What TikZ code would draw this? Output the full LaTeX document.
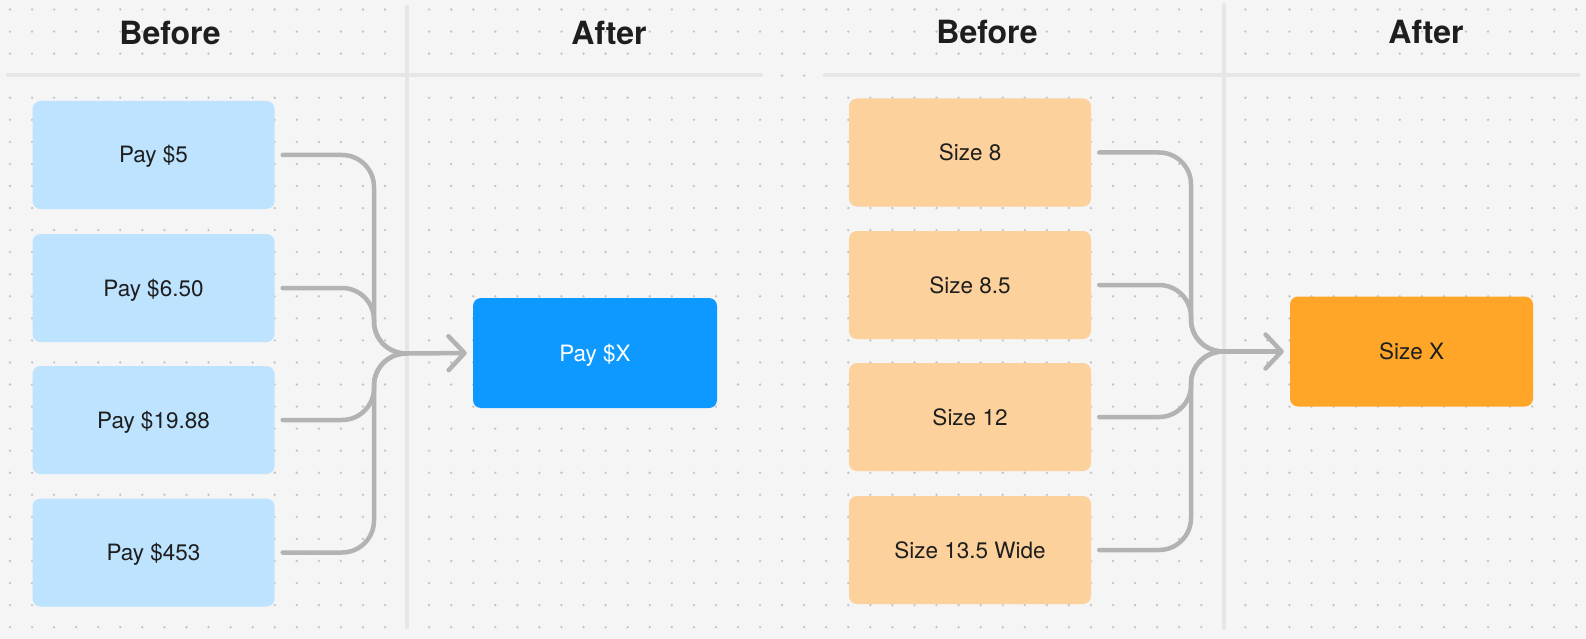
\documentclass[tikz,border=0pt]{standalone}
\usepackage{fontspec}
\setmainfont{TeX Gyre Heros}
\usetikzlibrary{arrows.meta}
\definecolor{bg}{HTML}{F5F5F5}
\definecolor{dotc}{HTML}{C4C4C4}
\definecolor{rule}{HTML}{E6E6E6}
\definecolor{conn}{HTML}{B3B3B3}
\definecolor{lblue}{HTML}{BDE3FF}
\definecolor{dblue}{HTML}{0D99FF}
\definecolor{lorange}{HTML}{FCD19C}
\definecolor{dorange}{HTML}{FFA629}
\definecolor{ink}{HTML}{1E1E1E}
\tikzset{
  card/.style={rounded corners=8pt, minimum width=242pt, minimum height=108pt, inner sep=0pt,
    text=ink, font=\fontsize{22.5}{27}\selectfont, text height=16pt, text depth=0pt},
  bluecard/.style={card, fill=lblue},
  orangecard/.style={card, fill=lorange},
  headtxt/.style={text=ink, font=\fontsize{32}{38}\selectfont\bfseries, inner sep=0pt},
  ruleline/.style={draw=rule, line width=4.5pt, line cap=round},
  link/.style={draw=conn, line width=4.5pt, line cap=round, line join=round, rounded corners=32pt},
  arrowlink/.style={draw=conn, line width=4.5pt, line cap=round,
    -{Straight Barb[length=16pt, width=34pt, line cap=round, line join=round]}, shorten >=6pt}
}
\begin{document}
\begin{tikzpicture}[x=1pt,y=-1pt]
\useasboundingbox (0,0) rectangle (1586,639);
\fill[bg] (0,0) rectangle (1586,639);
\foreach \i in {0,...,71}{
  \foreach \j in {0,...,28}{
    \fill[dotc] (10+\i*22.06, 9.5+\j*22.06) circle (1.3pt);
  }
}
% rules
\coordinate (hl1) at (8,75);   \coordinate (hl2) at (761,75);
\coordinate (vl1) at (407,7);  \coordinate (vl2) at (407,627);
\coordinate (hr1) at (825,75); \coordinate (hr2) at (1578,75);
\coordinate (vr1) at (1224,5); \coordinate (vr2) at (1224,628);
\draw[ruleline] (hl1) -- (hl2);
\draw[ruleline] (vl1) -- (vl2);
\draw[ruleline] (hr1) -- (hr2);
\draw[ruleline] (vr1) -- (vr2);
% headers
\node[headtxt] (h1) at (170,33) {Before};
\node[headtxt] (h2) at (609,33) {After};
\node[headtxt] (h3) at (987,32) {Before};
\node[headtxt] (h4) at (1426,32) {After};
% left boxes
\node[bluecard] (p1) at (153.5,155) {Pay \$5};
\node[bluecard] (p2) at (153.5,288) {Pay \$6.50};
\node[bluecard] (p3) at (153.5,420) {Pay \$19.88};
\node[bluecard] (p4) at (153.5,552.5) {Pay \$453};
\node[card, fill=dblue, text=white, minimum width=244pt, minimum height=110pt] (px) at (595,353) {Pay \$X};
% right boxes
\node[orangecard] (s1) at (970,152.5) {Size 8};
\node[orangecard] (s2) at (970,285) {Size 8.5};
\node[orangecard] (s3) at (970,417) {Size 12};
\node[orangecard] (s4) at (970,550) {Size 13.5 Wide};
\node[card, fill=dorange, minimum width=243pt, minimum height=110pt] (sx) at (1411.5,351.5) {Size X};
% left connectors
\coordinate (vL) at (374,353.5);
\coordinate (mL) at (405,353.5);
\foreach \b in {p1,p2,p3,p4}{
  \draw[link] ([xshift=8pt]\b.east) -| (vL) -- (mL);
}
\draw[arrowlink] (mL) -- (px.west);
% right connectors
\coordinate (vR) at (1191,351.5);
\coordinate (mR) at (1222,351.5);
\foreach \b in {s1,s2,s3,s4}{
  \draw[link] ([xshift=8pt]\b.east) -| (vR) -- (mR);
}
\draw[arrowlink] (mR) -- (sx.west);
\end{tikzpicture}
\end{document}
